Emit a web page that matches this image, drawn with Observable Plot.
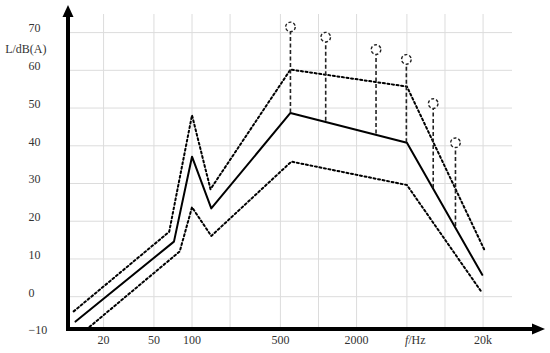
<!DOCTYPE html>
<html><head><meta charset="utf-8">
<script src="https://cdn.jsdelivr.net/npm/d3@7"></script>
<script src="https://cdn.jsdelivr.net/npm/@observablehq/plot@0.6"></script>
<style>body{margin:0;background:#fff}#chart{width:550px;height:353px}</style>
</head><body><div id="chart"></div>
<script>
// Mean level curve (solid)
const freqMean = [12, 72, 100, 142, 600, 5000, 19700];
const levelMean = [-6.6, 14.6, 37.1, 23.4, 48.7, 40.8, 5.8];
// Upper bound (dotted)
const freqUpper = [11.6, 66, 100, 140, 600, 5000, 20500];
const levelUpper = [-3.9, 17.2, 48.1, 28.5, 60.2, 55.7, 12.4];
// Lower bound (dotted)
const freqLower = [15.5, 80, 100, 142, 610, 5000, 19300];
const levelLower = [-8, 12.0, 23.7, 16.1, 35.8, 29.6, 1.4];
// Tonal peaks (dashed stems with circles)
const freqPeaks = [600, 1140, 2850, 4950, 8070, 12100];
const levelPeakTop = [71.5, 68.8, 65.5, 62.9, 51.2, 40.8];
const levelPeakBase = [48.7, 46.5, 43.1, 40.8, 28.7, 18.6];

// Axes
const xGridTicks = [20, 50, 100, 200, 500, 1000, 2000, 5000, 10000, 20000];
const xLabelTicks = [20, 50, 100, 500, 2000, 20000];
const xLabelText = ["20", "50", "100", "500", "2000", "20k"];
const yGridTicks = [0, 10, 20, 30, 40, 50, 60, 70];
const yLabelTicks = [-10, 0, 10, 20, 30, 40, 50, 60, 70];
const xTitle = "f/Hz";
const xTitleAt = 5000;
const yTitle = "L/dB(A)";
const yTitleAt = 65.6;

const toRows = (fs, ls) => fs.map((f, i) => ({f, l: ls[i]}));
const meanRows = toRows(freqMean, levelMean);
const upperRows = toRows(freqUpper, levelUpper);
const lowerRows = toRows(freqLower, levelLower);
const peakRows = freqPeaks.map((f, i) => ({f, top: levelPeakTop[i], base: levelPeakBase[i]}));
const xLabelRows = xLabelTicks.map((t, i) => ({t, label: xLabelText[i]}));

const font = "'Liberation Serif', 'DejaVu Serif', serif";

const chart = Plot.plot({
  width: 550, height: 353,
  marginLeft: 68, marginRight: 38, marginTop: 14, marginBottom: 24,
  style: {fontFamily: font, fontSize: "12px", color: "#333", background: "#fff"},
  x: {type: "log", domain: [10.56, 34170], axis: null},
  y: {domain: [-8.7, 74.8], axis: null},
  marks: [
    Plot.gridX(xGridTicks, {stroke: "#dcdcdc", strokeOpacity: 1, strokeWidth: 1}),
    Plot.gridY(yGridTicks, {stroke: "#dcdcdc", strokeOpacity: 1, strokeWidth: 1}),
    Plot.text(xLabelRows, {x: "t", text: "label", frameAnchor: "bottom", dy: 14, fill: "#333", fontFamily: font, fontSize: 12}),
    Plot.axisY(yLabelTicks, {tickSize: 0, tickPadding: 0, textAnchor: "start", dx: -40, dy: -4, fill: "#333", fontFamily: font, fontSize: 12, label: null}),
    Plot.line(upperRows, {x: "f", y: "l", stroke: "#000", strokeWidth: 2, strokeDasharray: "2,2.6"}),
    Plot.line(lowerRows, {x: "f", y: "l", stroke: "#000", strokeWidth: 2, strokeDasharray: "2,2.6"}),
    Plot.line(meanRows, {x: "f", y: "l", stroke: "#000", strokeWidth: 2}),
    Plot.ruleX(peakRows, {x: "f", y1: "base", y2: "top", stroke: "#222", strokeWidth: 1.6, strokeDasharray: "4,2.5"}),
    Plot.dot(peakRows, {x: "f", y: "top", r: 4.8, fill: "#fff", stroke: "#222", strokeWidth: 1.4, strokeDasharray: "3,2"}),
    Plot.text([yTitle], {frameAnchor: "left", y: () => yTitleAt, textAnchor: "end", dx: -22, fill: "#333", fontFamily: font, fontSize: 12}),
    Plot.text([xTitle], {x: () => xTitleAt, frameAnchor: "bottom", textAnchor: "start", dy: 14, dx: -2, fill: "#333", fontFamily: font, fontSize: 12})
  ]
});

document.getElementById("chart").appendChild(chart);

// italic f in the x title
d3.select(chart).selectAll("text").filter(function() { return this.textContent === xTitle; }).each(function() {
  const parts = xTitle.split("/");
  const t = d3.select(this);
  t.text(null);
  t.append("tspan").attr("font-style", "italic").text(parts[0]);
  t.append("tspan").text("/" + parts[1]);
});

// Thick axes with arrowheads
const X = chart.scale("x"), Y = chart.scale("y");
const [xl, xr] = X.range;
const [yb, yt] = Y.range;
const g = d3.select(chart).append("g");
g.append("line").attr("x1", xl - 2).attr("x2", xr + 22).attr("y1", yb).attr("y2", yb)
  .attr("stroke", "#000").attr("stroke-width", 4);
g.append("path").attr("d", `M${xr + 33},${yb} L${xr + 20},${yb - 5.5} L${xr + 20},${yb + 5.5} Z`).attr("fill", "#000");
g.append("line").attr("x1", xl).attr("x2", xl).attr("y1", yb + 2).attr("y2", yt + 2)
  .attr("stroke", "#000").attr("stroke-width", 4);
g.append("path").attr("d", `M${xl},${yt - 9} L${xl - 5.5},${yt + 3} L${xl + 5.5},${yt + 3} Z`).attr("fill", "#000");
</script>
</body></html>
